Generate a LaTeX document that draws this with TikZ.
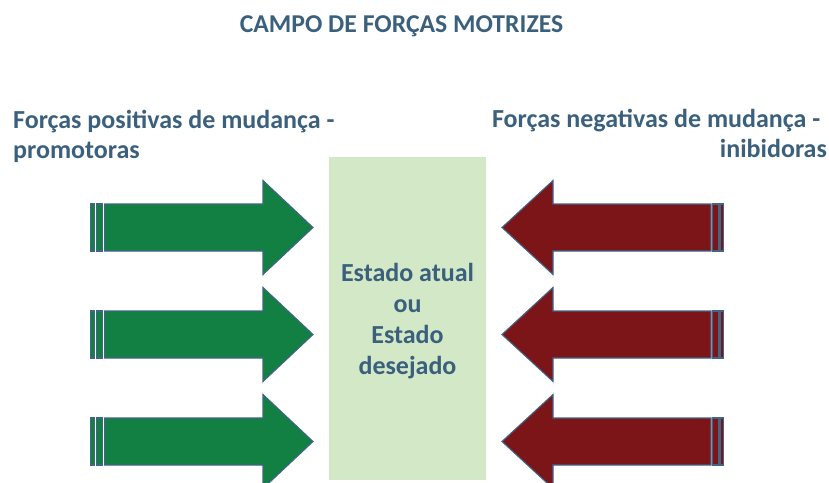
\documentclass[tikz,border=0pt]{standalone}
\usepackage{fontspec}
\setmainfont{Carlito}
\definecolor{txtblue}{RGB}{59,96,125}
\definecolor{edgeblue}{RGB}{65,100,135}
\definecolor{arrgreen}{RGB}{19,128,67}
\definecolor{arrred}{RGB}{124,21,24}
\definecolor{boxgreen}{RGB}{210,232,198}
\tikzset{
  lbl/.style={text=txtblue, font=\fontsize{26}{30}\selectfont\bfseries, inner sep=0pt},
  garrow/.style={fill=arrgreen, draw=edgeblue, line width=1.1pt, line join=miter},
  rarrow/.style={fill=arrred, draw=edgeblue, line width=1.1pt, line join=miter},
}
\begin{document}
\begin{tikzpicture}[x=1pt,y=-1pt]
\useasboundingbox (0,0) rectangle (829,482);
\node[lbl, font=\fontsize{25.7}{30}\selectfont\bfseries, anchor=base] (title) at (401.5,32) {CAMPO DE FORÇAS MOTRIZES};
\node[lbl, anchor=base west, align=left] (pos) at (13,158) {Forças positivas de mudança -\\promotoras};
\node[lbl, anchor=base east, align=right] (neg) at (827,157.5) {Forças negativas de mudança -\hspace*{6.5pt}\\inibidoras};
\fill[boxgreen] (329,157) rectangle (486,480);
\node[lbl, font=\fontsize{26}{31}\selectfont\bfseries, anchor=base, align=center] (state) at (407.5,374) {Estado atual\\ou\\Estado\\desejado};
\foreach \cy in {227.5,334.5,441.5}{
  \draw[garrow] (90.5,\cy-23.5) rectangle (94.8,\cy+23.5);
  \draw[garrow] (96.6,\cy-23.5) rectangle (102.8,\cy+23.5);
  \draw[garrow] (104.6,\cy-23.5) -- (263,\cy-23.5) -- (263,\cy-47) -- (313,\cy)
     -- (263,\cy+47) -- (263,\cy+23.5) -- (104.6,\cy+23.5) -- cycle;
  \draw[rarrow] (723.8,\cy-23.5) rectangle (720,\cy+23.5);
  \draw[rarrow] (718.2,\cy-23.5) rectangle (712.8,\cy+23.5);
  \draw[rarrow] (711,\cy-23.5) -- (553,\cy-23.5) -- (553,\cy-47) -- (502,\cy)
     -- (553,\cy+47) -- (553,\cy+23.5) -- (711,\cy+23.5) -- cycle;
}
\end{tikzpicture}
\end{document}
